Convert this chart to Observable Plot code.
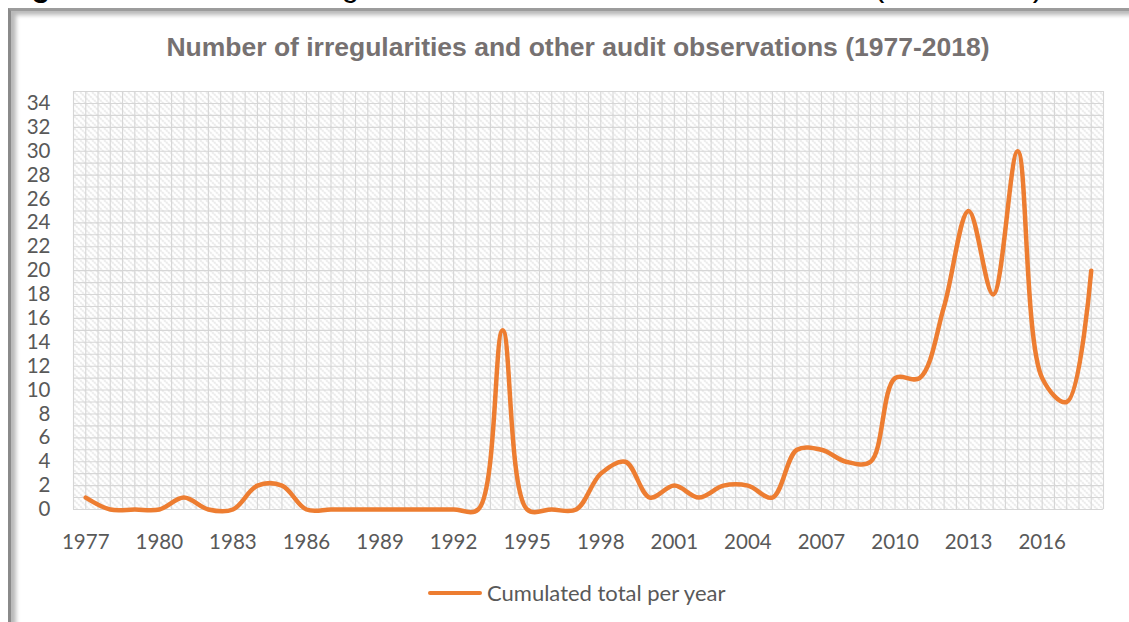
<!DOCTYPE html>
<html>
<head>
<meta charset="utf-8">
<script src="https://cdn.jsdelivr.net/npm/d3@7"></script>
<script src="https://cdn.jsdelivr.net/npm/@observablehq/plot@0.6"></script>
<style>
  html, body { margin: 0; padding: 0; background: #fff; width: 1129px; height: 622px; overflow: hidden; position: relative; }
  #heading { position: absolute; left: 4px; top: -30px; font: 31px/1 "Liberation Sans", Arial, sans-serif; color: #000; white-space: nowrap; }
  #box { position: absolute; left: 8px; top: 8px; width: 1200px; height: 700px;
         border-left: 3px solid #8a8a8a; border-top: 3px solid #9c9c9c;
         box-shadow: inset 5px 4px 4px rgba(0,0,0,0.28); }
  #title { position: absolute; left: 0; width: 1156px; top: 34px; text-align: center;
           font: bold 26.5px/1 "Liberation Sans", Arial, sans-serif; color: #767171; }
  #chart { position: absolute; left: 0; top: 0; }
  #legend { position: absolute; left: 428px; top: 580px; display: flex; align-items: center;
            font: 22px/26px Lato, sans-serif; color: #595959; }
  #legend .swatch { width: 54px; height: 4.5px; background: #ED7D31; border-radius: 2px; margin-right: 5px; }
</style>
</head>
<body>
<div id="heading"><b>Figure 1:</b> Number of irregularities and other audit observations (1977-2018)</div>
<div id="box"></div>
<div id="chart"></div>
<div id="title">Number of irregularities and other audit observations (1977-2018)</div>
<div id="legend"><span class="swatch"></span><span>Cumulated total per year</span></div>
<script>
// Audit years and the cumulated number of observations recorded in each
const years = [
  1977, 1978, 1979, 1980, 1981, 1982, 1983, 1984, 1985, 1986,
  1987, 1988, 1989, 1990, 1991, 1992, 1993, 1994, 1995, 1996,
  1997, 1998, 1999, 2000, 2001, 2002, 2003, 2004, 2005, 2006,
  2007, 2008, 2009, 2010, 2011, 2012, 2013, 2014, 2015, 2016,
  2017, 2018
];
const totals = [
  1, 0, 0, 0, 1, 0, 0, 2, 2, 0,
  0, 0, 0, 0, 0, 0, 0, 15, 0, 0,
  0, 3, 4, 1, 2, 1, 2, 2, 1, 5,
  5, 4, 4, 11, 11, 17, 25, 18, 30, 11,
  9, 20
];

// Axis labels
const xTickYears = [1977, 1980, 1983, 1986, 1989, 1992, 1995, 1998, 2001, 2004, 2007, 2010, 2013, 2016];
const yTicks = [0, 2, 4, 6, 8, 10, 12, 14, 16, 18, 20, 22, 24, 26, 28, 30, 32, 34];

const data = years.map((year, i) => ({year, total: totals[i]}));

// Fine background grid: every unit vertically, every half year horizontally
const gridY = d3.range(0, 36);
const gridX = d3.range(0, 85).map(k => 1976.5 + k / 2);

// Diagonal hatch used as the plot-area fill
const hatchDefs = () => {
  const defs = document.createElementNS("http://www.w3.org/2000/svg", "defs");
  defs.innerHTML = `<pattern id="hatch" patternUnits="userSpaceOnUse" width="6" height="6">
      <path d="M0,0L6,6M-1,5L1,7M5,-1L7,1" stroke="#d2d2d2" stroke-width="1.2" stroke-dasharray="1.6 1"/>
    </pattern>`;
  return defs;
};

const chart = Plot.plot({
  width: 1129,
  height: 560,
  marginTop: 91,
  marginBottom: 51,
  marginLeft: 73,
  marginRight: 26,
  style: {fontFamily: "Lato, sans-serif", fontSize: "20.5px", color: "#595959", background: "transparent", overflow: "visible"},
  x: {domain: [1976.5, 2018.5], ticks: xTickYears, tickFormat: d => String(d), tickSize: 0, tickPadding: 25, label: null},
  y: {domain: [0, 35], ticks: yTicks, tickSize: 0, tickPadding: 23, label: null},
  marks: [
    hatchDefs,
    Plot.frame({fill: "url(#hatch)", stroke: "none"}),
    Plot.ruleY(gridY, {stroke: "#d6d6d6", strokeWidth: 1.1}),
    Plot.ruleX(gridX, {stroke: "#d6d6d6", strokeWidth: 1.1}),
    Plot.line(data, {x: "year", y: "total", curve: "catmull-rom", stroke: "#ED7D31", strokeWidth: 4.5, strokeLinecap: "round", strokeLinejoin: "round"})
  ]
});
document.getElementById("chart").appendChild(chart);
</script>
</body>
</html>
